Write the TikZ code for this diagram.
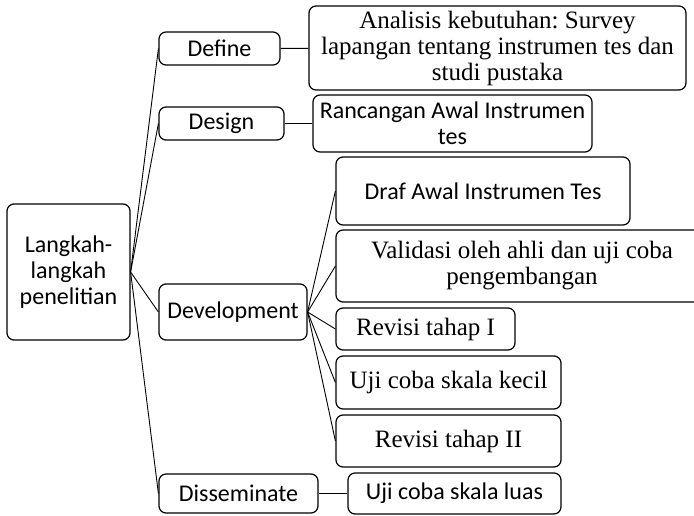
\documentclass[tikz,border=0pt]{standalone}
\usepackage{fontspec}
\setmainfont{Carlito}
\newfontfamily\serifx{Liberation Serif}
\frenchspacing
\begin{document}
\begin{tikzpicture}[x=1pt,y=-1pt,
  box/.style={draw=black, line width=1.2pt, rounded corners=7pt, inner sep=0pt, align=center,
    font=\fontsize{24}{26}\selectfont},
  sbox/.style={box, font=\serifx\fontsize{25}{26}\selectfont},
  link/.style={draw=black, line width=0.9pt}]
\useasboundingbox (0,0) rectangle (694,515);
\node[box, minimum width=123pt, minimum height=136pt] (root) at (68.5,272) {Langkah-\\langkah\\penelitian};
\node[box, minimum width=121pt, minimum height=33pt] (define) at (219.5,48.5) {Define};
\node[box, minimum width=125pt, minimum height=33pt] (design) at (221.5,123.5) {Design};
\node[box, minimum width=148pt, minimum height=56pt] (devel) at (233,312) {Development};
\node[box, minimum width=159pt, minimum height=39pt] (dissem) at (238.5,493.5) {Disseminate};
\node[sbox, minimum width=377pt, minimum height=84pt] (analisis) at (497.5,48) {Analisis kebutuhan: Survey\\lapangan tentang instrumen tes dan\\studi pustaka};
\node[box, minimum width=279pt, minimum height=57pt] (rancangan) at (452.5,123.5) {Rancangan Awal Instrumen\\tes};
\node[box, minimum width=294pt, minimum height=68pt] (draf) at (483,191) {Draf Awal Instrumen Tes};
\node[sbox, minimum width=372pt, minimum height=72pt] (validasi) at (522,266) {Validasi oleh ahli dan uji coba\\pengembangan};
\node[sbox, minimum width=179pt, minimum height=42pt] (revisi1) at (425.5,329) {Revisi tahap I};
\node[sbox, minimum width=225pt, minimum height=53pt] (kecil) at (448.5,382.5) {Uji coba skala kecil};
\node[sbox, minimum width=225pt, minimum height=52pt] (revisi2) at (448.5,441) {Revisi tahap II};
\node[box, minimum width=213pt, minimum height=41pt] (luas) at (454.5,493.5) {Uji coba skala luas};
\foreach \t in {define,design,devel,dissem} \draw[link] (root.east) -- (\t.west);
\foreach \t in {draf,validasi,revisi1,kecil,revisi2} \draw[link] (devel.east) -- (\t.west);
\draw[link] (define) -- (analisis);
\draw[link] (design) -- (rancangan);
\draw[link] (dissem) -- (luas);
\end{tikzpicture}
\end{document}
